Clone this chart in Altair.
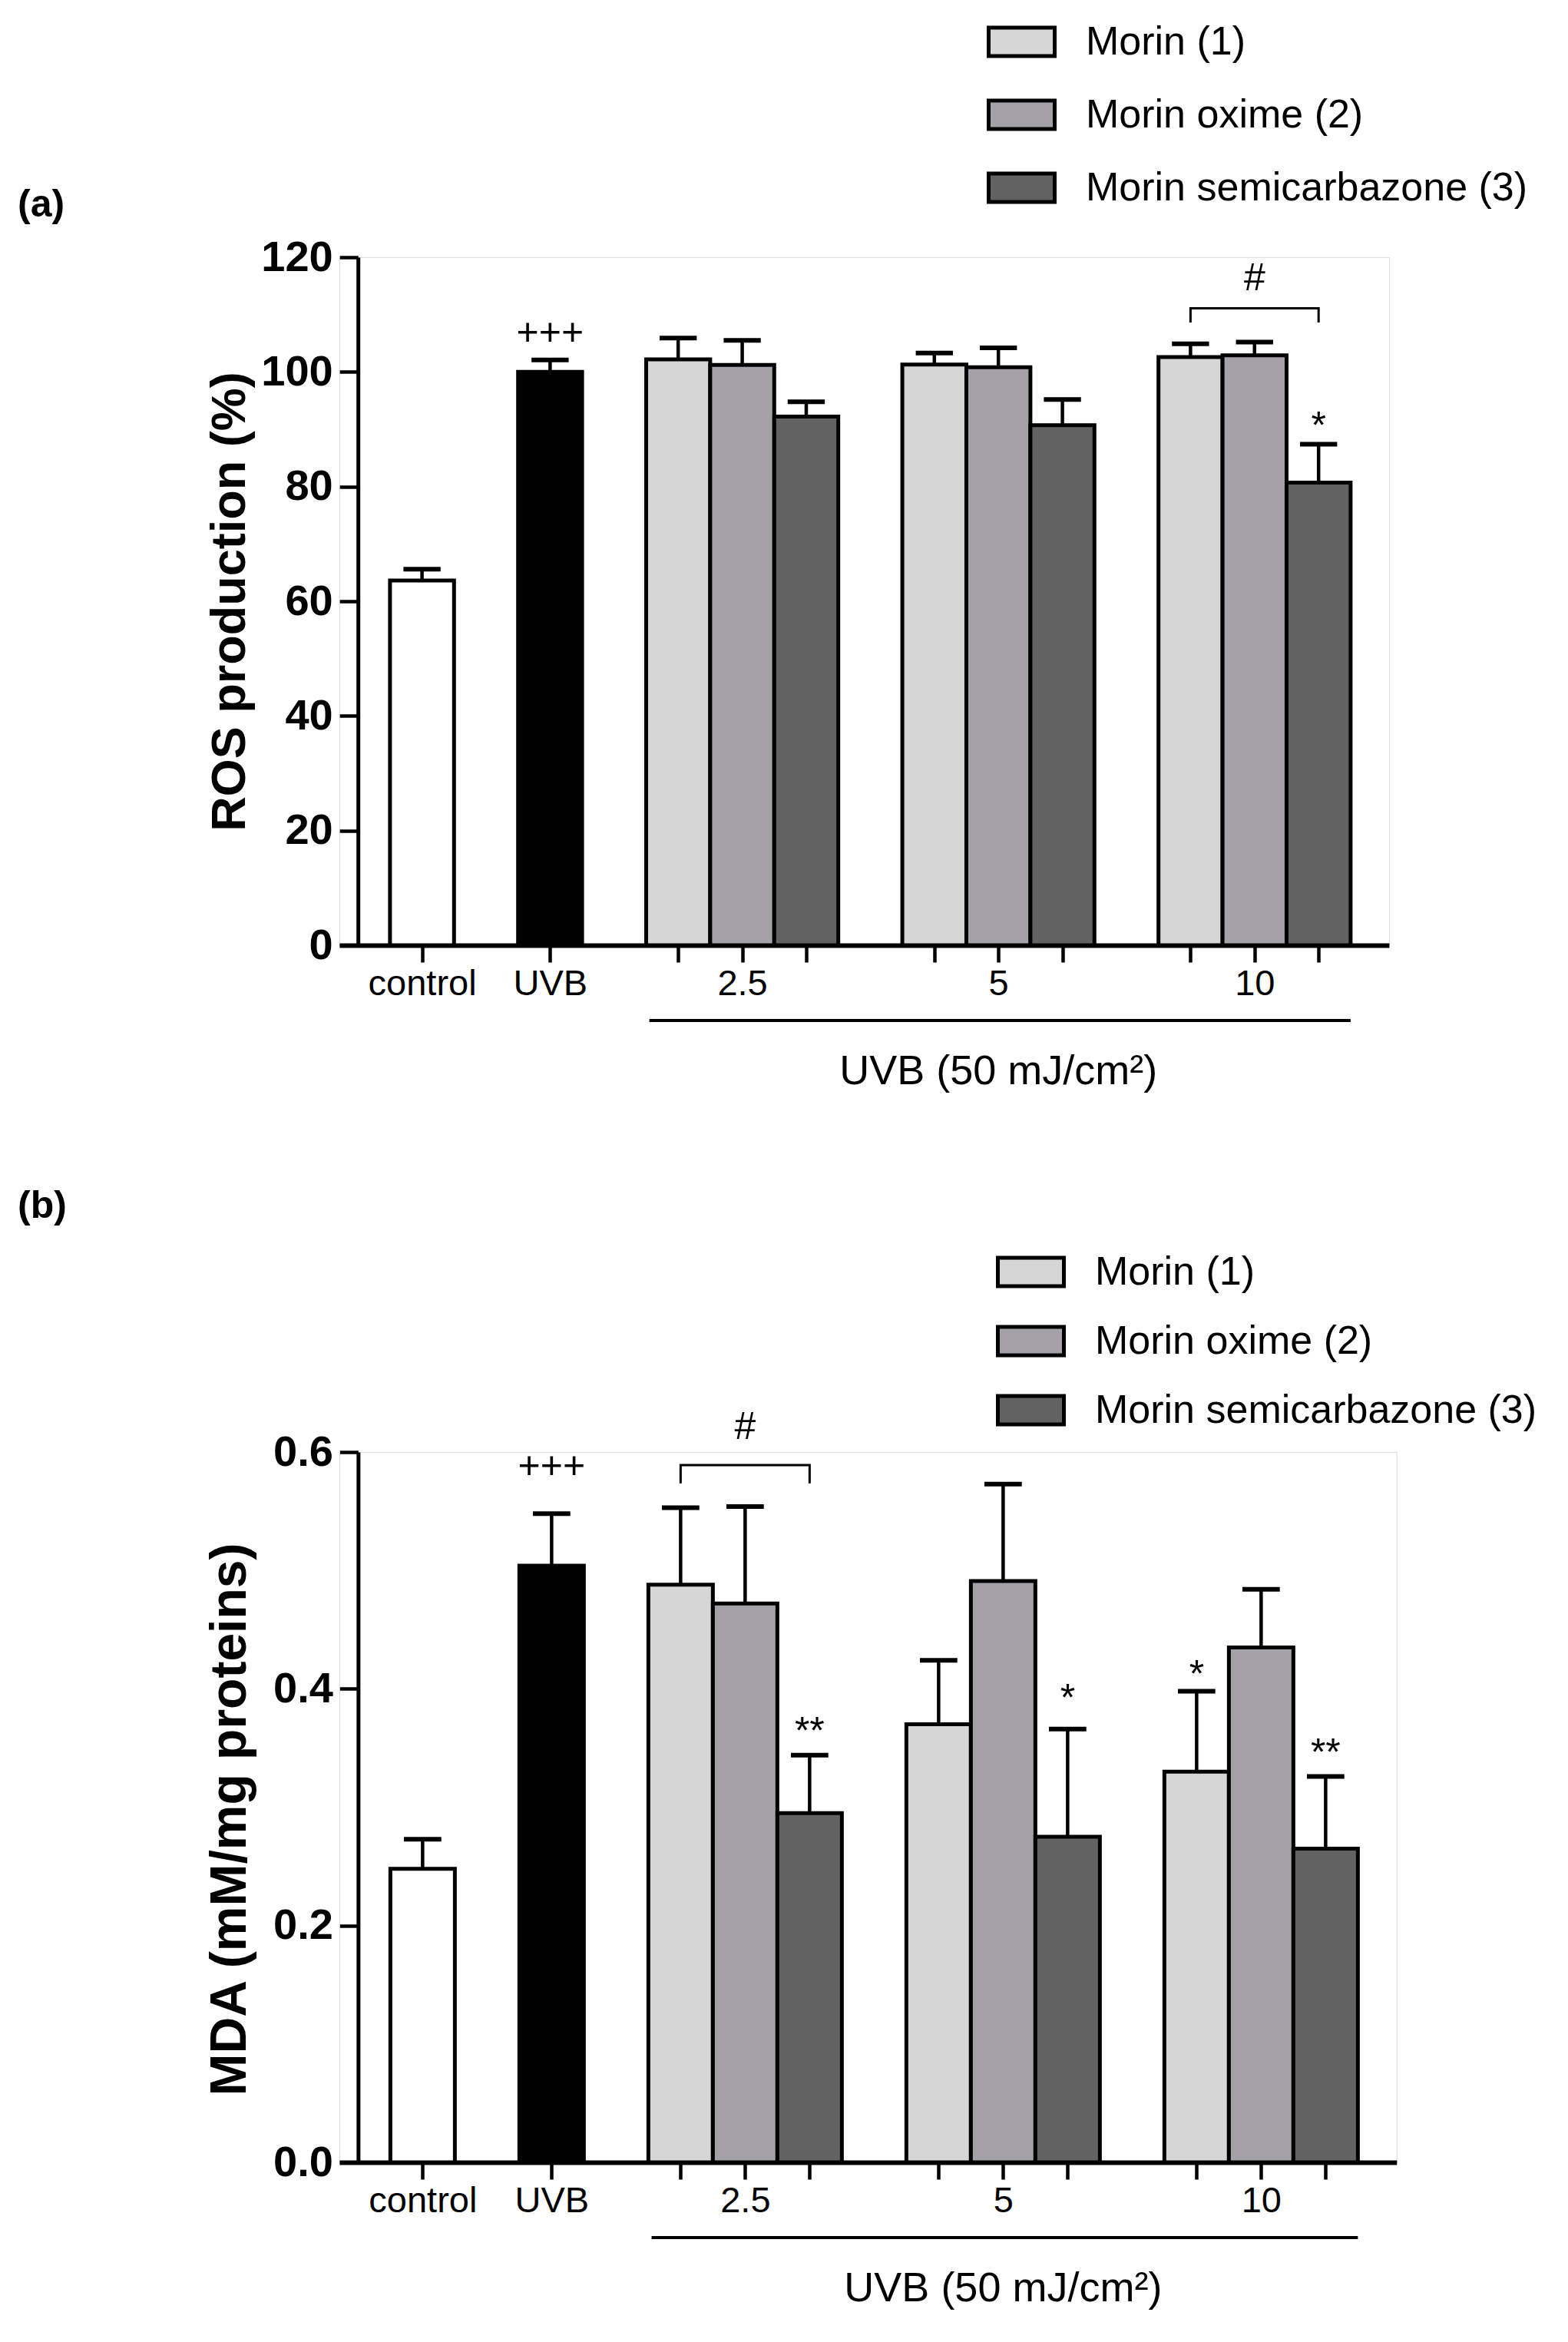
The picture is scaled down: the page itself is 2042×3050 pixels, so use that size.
import altair as alt
import pandas as pd

FONT = "Liberation Sans"

# ---------------- data ----------------
conditions = ["control", "UVB"]
doses = ["2.5", "5", "10"]
series = ["Morin (1)", "Morin oxime (2)", "Morin semicarbazone (3)"]
groups = conditions + series
fills = ["#ffffff", "#000000", "#d6d6d6", "#a4a2a8", "#626262"]

# (a) ROS production (%)
ros_cond_mean = [63.6, 100.0]
ros_cond_err = [2.0, 2.1]
ros_morin = [102.2, 101.3, 102.6]
ros_morin_err = [3.7, 2.0, 2.3]
ros_oxime = [101.2, 100.8, 102.9]
ros_oxime_err = [4.3, 3.4, 2.3]
ros_semi = [92.2, 90.7, 80.7]
ros_semi_err = [2.6, 4.5, 6.7]
ros_ann_text = ["+++", "#", "*"]
ros_ann_where = [("UVB", None), ("10", "Morin oxime (2)"), ("10", "Morin semicarbazone (3)")]
ros_ann_value = [106.8, 116.2, 92.0]
ros_bracket = ("10", 111.1, 108.6)

# (b) MDA (mM/mg proteins)
mda_cond_mean = [0.248, 0.504]
mda_cond_err = [0.025, 0.044]
mda_morin = [0.488, 0.370, 0.330]
mda_morin_err = [0.065, 0.054, 0.068]
mda_oxime = [0.472, 0.491, 0.435]
mda_oxime_err = [0.082, 0.082, 0.049]
mda_semi = [0.295, 0.275, 0.265]
mda_semi_err = [0.049, 0.091, 0.061]
mda_ann_text = ["+++", "#", "**", "*", "*", "**"]
mda_ann_where = [("UVB", None), ("2.5", "Morin oxime (2)"), ("2.5", "Morin semicarbazone (3)"),
                 ("5", "Morin semicarbazone (3)"), ("10", "Morin (1)"), ("10", "Morin semicarbazone (3)")]
mda_ann_value = [0.588, 0.621, 0.371, 0.399, 0.419, 0.353]
mda_bracket = ("2.5", 0.589, 0.5735)

x_labels = ["control", "UVB"] + doses
caption = "UVB (50 mJ/cm\u00b2)"


# ---------------- helpers ----------------
def slot_of(cond, ser=None):
    if cond in conditions:
        return 2 * conditions.index(cond)
    i = doses.index(cond)
    j = series.index(ser) if ser is not None else 1
    return 4 + 4 * i + j


def build_df(cm, ce, sm, se):
    rows = []
    for c, m, e in zip(conditions, cm, ce):
        rows.append(dict(slot=slot_of(c), group=c, mean=m, top=m + e))
    for j, s in enumerate(series):
        for i, d in enumerate(doses):
            rows.append(dict(slot=slot_of(d, s), group=s, mean=sm[j][i], top=sm[j][i] + se[j][i]))
    return pd.DataFrame(rows)


X_MIN, X_MAX = -1.29, 15.1
tick_slots = [slot_of(c) for c in conditions] + [slot_of(d, s) for d in doses for s in series]
label_slots = [slot_of(c) for c in conditions] + [slot_of(d) for d in doses]
label_expr = " : ".join(f"datum.value == {k} ? '{v}'" for k, v in zip(label_slots, x_labels)) + " : ''"

SYMBOL = "M-1,-0.43H1V0.43H-1Z"


def panel(df, ann_text, ann_where, ann_value, bracket, ydomain, yvalues, yfmt, ytitle,
          slot_px, height, letter, legend_x, legend_y, letter_y, row_pad,
          title_size, title_pad, title_y=None):
    width = (X_MAX - X_MIN) * slot_px
    xscale = alt.Scale(domain=[X_MIN, X_MAX], nice=False, zero=False)
    yscale = alt.Scale(domain=ydomain, nice=False, zero=True)
    xaxis = alt.Axis(values=tick_slots, labelExpr=label_expr, title=None, tickSize=22, tickWidth=4.5,
                     domainWidth=6, domainColor="black", tickColor="black", labelColor="black",
                     labelFontSize=47, labelPadding=5, labelOverlap=False,
                     labelFlush=False, labelBound=False, grid=False, domainOpacity=1, tickOpacity=1)
    yargs = dict(values=yvalues, title=ytitle, titleFontSize=title_size, titleFontWeight="bold",
                 titlePadding=title_pad, labelFontSize=56, labelFontWeight="bold", labelPadding=9,
                 tickSize=24, tickWidth=4.5, domainWidth=5, grid=False,
                 domainColor="black", tickColor="black", labelColor="black", titleColor="black",
                 domainOpacity=1, tickOpacity=1,
                 offset=-(-1 - X_MIN) * slot_px)
    if yfmt:
        yargs["format"] = yfmt
    if title_y is not None:
        yargs["titleY"] = title_y
    yaxis = alt.Axis(**yargs)

    def X(f):
        return alt.X(f, type="quantitative", scale=xscale, axis=xaxis)

    def Y(f):
        return alt.Y(f, type="quantitative", scale=yscale, axis=yaxis, stack=None)

    base = alt.Chart(df)
    bars = base.mark_bar(stroke="black", strokeWidth=5, opacity=1, strokeOpacity=1).transform_calculate(
        x0="datum.slot - 0.5", x1="datum.slot + 0.5", b0="0"
    ).encode(
        x=X("x0"), x2="x1:Q", y=Y("mean"), y2="b0:Q",
        color=alt.Color("group:N", scale=alt.Scale(domain=groups, range=fills),
                        legend=alt.Legend(orient="none", legendX=legend_x, legendY=legend_y,
                                          title=None, values=series, symbolType=SYMBOL,
                                          symbolSize=7396, symbolStrokeColor="black",
                                          symbolStrokeWidth=5, symbolOpacity=1,
                                          labelFontSize=52, labelFont=FONT, labelColor="black",
                                          labelOffset=38, rowPadding=row_pad, labelLimit=0, padding=0)),
    )
    stems = base.mark_rule(color="black", strokeWidth=4.5).encode(x=X("slot"), y=Y("mean"), y2="top:Q")
    caps = base.mark_rule(color="black", strokeWidth=6).transform_calculate(
        c0="datum.slot - 0.29", c1="datum.slot + 0.29"
    ).encode(x=X("c0"), x2="c1:Q", y=Y("top"))

    adf = pd.DataFrame(dict(slot=[slot_of(c, s) for c, s in ann_where], val=ann_value, text=ann_text))
    adf["star"] = adf["text"].str.startswith("*")
    ann_plain = alt.Chart(adf).transform_filter("!datum.star").mark_text(
        fontSize=50, font=FONT, color="black", baseline="middle").encode(x=X("slot"), y=Y("val"), text="text:N")
    ann_star = alt.Chart(adf).transform_filter("datum.star").mark_text(
        fontSize=50, font=FONT, color="black", baseline="middle", dy=12).encode(x=X("slot"), y=Y("val"), text="text:N")

    d, ytop, yleg = bracket
    s0, s1 = slot_of(d, series[0]), slot_of(d, series[-1])
    bdf = pd.DataFrame(dict(x=[s0, s0, s1, s1], y=[yleg, ytop, ytop, yleg], o=[0, 1, 2, 3]))
    br = alt.Chart(bdf).mark_line(color="black", strokeWidth=3).encode(x=X("x"), y=Y("y"), order="o:Q")

    udf = pd.DataFrame(dict(a=[slot_of(doses[0], series[0]) - 0.45], b=[slot_of(doses[-1], series[-1]) + 0.5]))
    underline = alt.Chart(udf).mark_rule(color="black", strokeWidth=4).encode(
        x=X("a"), x2="b:Q", y=alt.value(height + 98))
    cdf = pd.DataFrame(dict(x=[slot_of(doses[1])], t=[caption]))
    cap_text = alt.Chart(cdf).mark_text(fontSize=54, font=FONT, color="black", baseline="middle").encode(
        x=X("x"), y=alt.value(height + 165), text="t:N")
    ldf = pd.DataFrame(dict(t=[letter]))
    letter_text = alt.Chart(ldf).mark_text(fontSize=50, font=FONT, fontWeight="bold", color="black",
                                           align="left", baseline="middle").encode(
        x=alt.value(-419), y=alt.value(letter_y), text="t:N")

    return alt.layer(bars, stems, caps, ann_plain, ann_star, br, underline, cap_text, letter_text).properties(
        width=width, height=height)


ros_df = build_df(ros_cond_mean, ros_cond_err, [ros_morin, ros_oxime, ros_semi],
                  [ros_morin_err, ros_oxime_err, ros_semi_err])
mda_df = build_df(mda_cond_mean, mda_cond_err, [mda_morin, mda_oxime, mda_semi],
                  [mda_morin_err, mda_oxime_err, mda_semi_err])

chart_a = panel(ros_df, ros_ann_text, ros_ann_where, ros_ann_value, ros_bracket, [0, 120],
                [0, 20, 40, 60, 80, 100, 120], None, "ROS production (%)", 83.4, 896, "(a)",
                843, -326, -68, 21, 63, 8)
chart_b = panel(mda_df, mda_ann_text, mda_ann_where, mda_ann_value, mda_bracket, [0, 0.6],
                [0, 0.2, 0.4, 0.6], ".1f", "MDA (mM/mg proteins)", 84, 925, "(b)",
                855, -280, -320, 16, 66, 22, title_y=478)

chart = alt.vconcat(chart_a, chart_b, spacing=121).resolve_scale(color="independent").resolve_legend(
    color="independent"
).properties(padding={"left": 14, "top": 0, "right": 5, "bottom": 5}).configure_view(
    stroke=None
).configure_axis(
    labelColor="black", titleColor="black", domainColor="black", tickColor="black",
    labelFont=FONT, titleFont=FONT
).configure(font=FONT)

chart.save("out.html", embed_options={"renderer": "svg", "actions": False})
